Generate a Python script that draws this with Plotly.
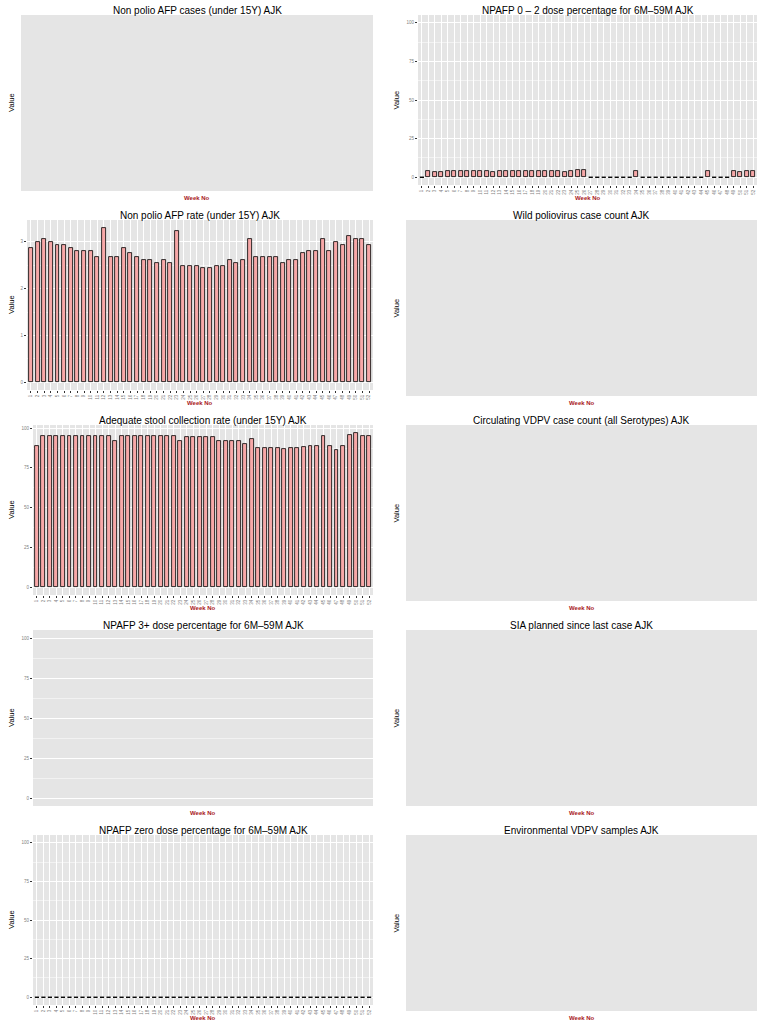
import plotly.graph_objects as go

# ---------------- data ----------------
weeks = list(range(1, 53))
week_labels = [str(w) for w in weeks]

afp_rate = [2.86, 2.99, 3.06, 2.99, 2.93, 2.93, 2.86, 2.80, 2.80, 2.80,
            2.67, 3.30, 2.67, 2.67, 2.86, 2.75, 2.67, 2.61, 2.61, 2.55,
            2.61, 2.55, 3.24, 2.49, 2.49, 2.49, 2.43, 2.43, 2.49, 2.49,
            2.61, 2.55, 2.61, 3.06, 2.67, 2.67, 2.67, 2.67, 2.55, 2.61,
            2.61, 2.75, 2.80, 2.80, 3.06, 2.80, 2.99, 2.93, 3.12, 3.06,
            3.06, 2.93]

stool_rate = [88.8, 95.2, 95.2, 95.2, 95.2, 95.2, 95.2, 95.2, 95.2, 95.2,
              95.2, 94.8, 91.7, 94.8, 94.8, 95.2, 94.8, 94.8, 94.8, 94.8,
              94.8, 94.8, 91.7, 94.4, 94.3, 94.3, 94.3, 94.3, 91.7, 91.7,
              92.1, 92.1, 89.8, 93.3, 87.5, 87.5, 87.5, 87.5, 87.1, 87.5,
              87.5, 87.9, 88.5, 88.5, 95.2, 88.5, 86.5, 88.9, 95.4, 97.1,
              95.2, 95.2]

dose02 = [0, 3.8, 3.6, 3.6, 3.9, 3.9, 3.9, 3.8, 3.8, 3.8,
          3.8, 3.4, 3.8, 3.8, 3.8, 3.8, 3.8, 3.8, 4.1, 3.9,
          4.2, 3.9, 3.3, 4.0, 4.6, 4.6, 0, 0, 0, 0,
          0, 0, 0, 3.9, 0, 0, 0, 0, 0, 0,
          0, 0, 0, 0, 4.3, 0, 0, 0, 3.8, 3.6,
          4.1, 4.1]

zero_dose = [0] * 52

titles = [
    "Non polio AFP cases (under 15Y) AJK",
    "NPAFP 0 \u2013 2 dose percentage for 6M\u201359M AJK",
    "Non polio AFP rate (under 15Y) AJK",
    "Wild poliovirus case count AJK",
    "Adequate stool collection rate (under 15Y) AJK",
    "Circulating VDPV case count (all Serotypes) AJK",
    "NPAFP 3+ dose percentage for 6M\u201359M AJK",
    "SIA planned since last case AJK",
    "NPAFP zero dose percentage for 6M\u201359M AJK",
    "Environmental VDPV samples AJK",
]

pct_ticks = [0, 25, 50, 75, 100]
pct_minor = [12.5, 37.5, 62.5, 87.5]
rate_ticks = [0, 1, 2, 3]
rate_minor = [0.5, 1.5, 2.5]

# ---------------- style ----------------
W, H = 768, 1024
BAR_FILL = "#F7A8A8"
PANEL_BG = "#E5E5E5"
TICK_FONT = dict(family="Liberation Sans, Arial, sans-serif", size=4.5, color="#7F7F7F")
TITLE_FONT = dict(family="Liberation Sans, Arial, sans-serif", size=10, color="black")
VALUE_FONT = dict(family="Liberation Sans Narrow, Liberation Sans, Arial", size=7.5, color="black")
WEEK_FONT = dict(family="Liberation Sans, Arial, sans-serif", size=6, color="#A8181C")

# panel specs: (kind, data, yticks, yminor, yrange)
specs = [
    ("empty", None, None, None, None),
    ("bar", dose02, pct_ticks, pct_minor, [-5, 105]),
    ("bar", afp_rate, rate_ticks, rate_minor, [-0.165, 3.465]),
    ("empty", None, None, None, None),
    ("bar", stool_rate, pct_ticks, pct_minor, [-4.86, 101.96]),
    ("empty", None, None, None, None),
    ("axis", None, pct_ticks, pct_minor, [-5, 105]),
    ("empty", None, None, None, None),
    ("bar", zero_dose, pct_ticks, pct_minor, [-5, 105]),
    ("empty", None, None, None, None),
]

fig = go.Figure()
annotations = []
layout_axes = {}

for i, (kind, data, yt, ym, yr) in enumerate(specs):
    n = i + 1
    row, col = divmod(i, 2)
    top = row * 205
    if col == 0:
        x1 = 373
        if kind == "empty":
            x0 = 21
        elif yt is rate_ticks:
            x0 = 27
        else:
            x0 = 33
        value_x = 11
    else:
        x1 = 757
        x0 = 406 if kind == "empty" else 418
        value_x = 395.5
    y0 = top + 15
    y1 = top + (185 if kind == "bar" else 191)

    xa = "xaxis" if n == 1 else f"xaxis{n}"
    ya = "yaxis" if n == 1 else f"yaxis{n}"
    xref = "x" if n == 1 else f"x{n}"
    yref = "y" if n == 1 else f"y{n}"

    xdict = dict(domain=[x0 / W, x1 / W], anchor=yref, showline=False,
                 zeroline=False, fixedrange=True)
    ydict = dict(domain=[1 - y1 / H, 1 - y0 / H], anchor=xref, showline=False,
                 zeroline=False, fixedrange=True)

    if kind == "empty":
        xdict.update(showgrid=False, showticklabels=False, ticks="", range=[0, 1])
        ydict.update(showgrid=False, showticklabels=False, ticks="", range=[0, 1])
    else:
        ydict.update(range=yr, tickvals=yt, ticktext=[str(v) for v in yt],
                     showgrid=True, gridcolor="white", gridwidth=1,
                     ticks="outside", ticklen=2, tickwidth=0.5, tickcolor="#333333",
                     tickfont=TICK_FONT,
                     minor=dict(tickvals=ym, showgrid=True, gridcolor="#F2F2F2",
                                gridwidth=0.5, ticks=""))
        if kind == "bar":
            xdict.update(range=[0.4, 52.6], tickvals=weeks, ticktext=week_labels,
                         tickangle=-90, showgrid=True, gridcolor="white", gridwidth=1,
                         ticks="outside", ticklen=2, tickwidth=0.5, tickcolor="#333333",
                         tickfont=TICK_FONT)
        else:
            xdict.update(range=[0, 1], showgrid=False, showticklabels=False, ticks="")

    layout_axes[xa] = xdict
    layout_axes[ya] = ydict

    if kind == "bar":
        nz = [v if v != 0 else None for v in data]
        fig.add_trace(go.Bar(
            x=weeks, y=nz, width=0.6, xaxis=xref, yaxis=yref,
            marker=dict(color=BAR_FILL, line=dict(color="black", width=0.8)),
            showlegend=False, hoverinfo="x+y"))
        zx = [w for w, v in zip(weeks, data) if v == 0]
        if zx:
            fig.add_trace(go.Scatter(
                x=zx, y=[0] * len(zx), mode="markers", xaxis=xref, yaxis=yref,
                marker=dict(symbol="line-ew", size=3,
                            line=dict(color="black", width=1.4)),
                showlegend=False, hoverinfo="skip"))
    else:
        fig.add_trace(go.Scatter(x=[None], y=[None], mode="markers",
                                 xaxis=xref, yaxis=yref, showlegend=False,
                                 hoverinfo="skip"))

    cx = (x0 + x1) / 2 / W
    annotations.append(dict(text=titles[i], x=cx, y=1 - (top + 10) / H,
                            xref="paper", yref="paper", showarrow=False,
                            xanchor="center", yanchor="middle", font=TITLE_FONT))
    annotations.append(dict(text="<b>Week No</b>", x=cx, y=1 - (top + 197.5) / H,
                            xref="paper", yref="paper", showarrow=False,
                            xanchor="center", yanchor="middle", font=WEEK_FONT))
    annotations.append(dict(text="Value", x=value_x / W, y=1 - ((y0 + y1) / 2) / H,
                            xref="paper", yref="paper", showarrow=False, textangle=-90,
                            xanchor="center", yanchor="middle", font=VALUE_FONT))

fig.update_layout(
    width=W, height=H,
    margin=dict(l=0, r=0, t=0, b=0),
    paper_bgcolor="white", plot_bgcolor=PANEL_BG,
    bargap=0, showlegend=False,
    annotations=annotations,
    **layout_axes,
)

fig.write_html("out.html", config={"displayModeBar": False},
               post_script="document.body.style.margin='0';document.body.style.overflow='hidden';")
